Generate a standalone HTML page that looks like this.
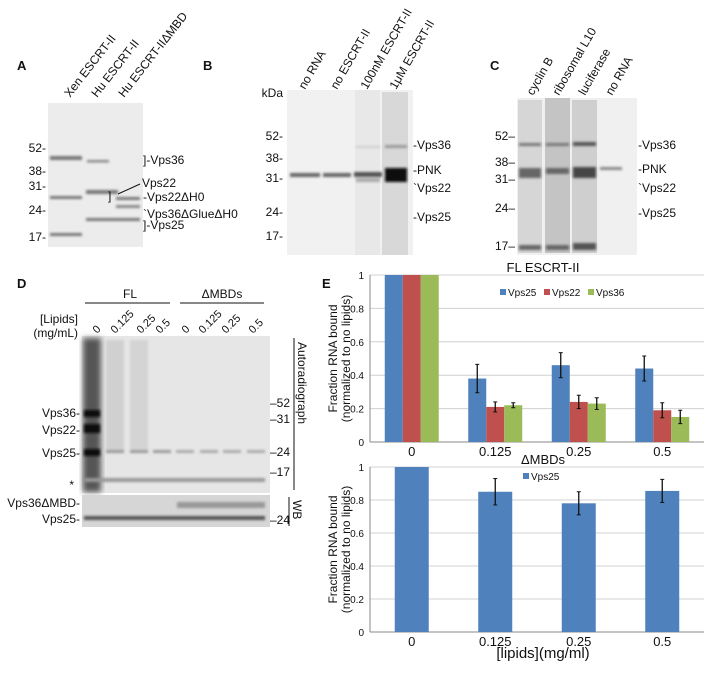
<!DOCTYPE html>
<html><head><meta charset="utf-8"><style>
body{margin:0;background:#fff;width:710px;height:680px;overflow:hidden;font-family:"Liberation Sans",sans-serif}
svg{position:absolute;left:0;top:0}
text{font-family:"Liberation Sans",sans-serif;fill:#111}
</style></head><body>
<svg width="710" height="680">
<defs>
<filter id="b1" x="-20%" y="-200%" width="140%" height="500%"><feGaussianBlur stdDeviation="1.2"/></filter>
<filter id="b2" x="-20%" y="-50%" width="140%" height="200%"><feGaussianBlur stdDeviation="3"/></filter>
</defs>
<!-- Panel A -->
<g>
<text x="17" y="70" font-size="13" font-weight="bold">A</text>
<g font-size="12">
<text transform="translate(70,98) rotate(-52)">Xen ESCRT-II</text>
<text transform="translate(97,98) rotate(-52)">Hu ESCRT-II</text>
<text transform="translate(124,98) rotate(-52)">Hu ESCRT-IIΔMBD</text>
</g>
<rect x="48" y="103" width="95" height="144" fill="#ececec"/>
<g fill="#777" filter="url(#b1)">
<rect x="50" y="156" width="32" height="4"/><rect x="50" y="196" width="32" height="3"/><rect x="50" y="233" width="32" height="3"/>
<rect x="87" y="160" width="22" height="2.5" fill="#888"/><rect x="86" y="190" width="32" height="4"/><rect x="86" y="218" width="32" height="3"/>
<rect x="116" y="197" width="24" height="3"/><rect x="116" y="205" width="24" height="3" fill="#888"/><rect x="116" y="218" width="24" height="3"/>
</g>
<g font-size="12" text-anchor="end"><text x="46" y="152">52-</text><text x="46" y="175">38-</text><text x="46" y="190">31-</text><text x="46" y="214">24-</text><text x="46" y="241">17-</text></g>
<g font-size="12">
<text x="143" y="164">]-Vps36</text><text x="142" y="187">Vps22</text>
<text x="143" y="201">-Vps22ΔH0</text><text x="143" y="218">`Vps36ΔGlueΔH0</text><text x="143" y="229">]-Vps25</text>
<line x1="118" y1="194" x2="140" y2="184" stroke="#111"/><text x="108" y="200">]</text>
</g>
</g>
<!-- Panel B -->
<g>
<text x="203" y="70" font-size="13" font-weight="bold">B</text>
<g font-size="12">
<text transform="translate(305,90) rotate(-60)">no RNA</text>
<text transform="translate(337,90) rotate(-60)">no ESCRT-II</text>
<text transform="translate(367,90) rotate(-60)">100nM ESCRT-II</text>
<text transform="translate(396,90) rotate(-60)">1μM ESCRT-II</text>
</g>
<rect x="287" y="90" width="126" height="165" fill="#f1f1f1"/>
<rect x="355" y="90" width="25" height="165" fill="#e8e8e8"/><rect x="382" y="92" width="26" height="163" fill="#d8d8d8"/>
<g filter="url(#b1)">
<rect x="290" y="173" width="30" height="4" fill="#666"/><rect x="323" y="173" width="28" height="4" fill="#666"/>
<rect x="354" y="172" width="28" height="5" fill="#555"/><rect x="356" y="178" width="24" height="4" fill="#aaa"/>
<rect x="385" y="168" width="22" height="14" fill="#111"/><rect x="385" y="145" width="22" height="3" fill="#999"/><rect x="356" y="146" width="24" height="2" fill="#ccc"/>
</g>
<g font-size="12" text-anchor="end"><text x="283" y="97">kDa</text><text x="283" y="140">52-</text><text x="283" y="162">38-</text><text x="283" y="182">31-</text><text x="283" y="216">24-</text><text x="283" y="240">17-</text></g>
<g font-size="12"><text x="413" y="149">-Vps36</text><text x="413" y="174">-PNK</text><text x="413" y="192">`Vps22</text><text x="413" y="221">-Vps25</text></g>
</g>
<!-- Panel C -->
<g>
<text x="490" y="70" font-size="13" font-weight="bold">C</text>
<g font-size="12">
<text transform="translate(533,96) rotate(-60)">cyclin B</text>
<text transform="translate(559,96) rotate(-60)">ribosomal L10</text>
<text transform="translate(585,96) rotate(-60)">luciferase</text>
<text transform="translate(612,96) rotate(-60)">no RNA</text>
</g>
<rect x="517" y="98" width="120" height="157" fill="#f0f0f0"/>
<rect x="518" y="100" width="24" height="153" fill="#d6d6d6"/><rect x="545" y="98" width="25" height="155" fill="#c4c4c4"/><rect x="572" y="100" width="25" height="153" fill="#cfcfcf"/>
<g filter="url(#b1)" fill="#777">
<rect x="519" y="143" width="22" height="3"/><rect x="546" y="143" width="23" height="3"/><rect x="573" y="142" width="23" height="4" fill="#555"/>
<rect x="519" y="168" width="22" height="10" fill="#666"/><rect x="546" y="168" width="23" height="6" fill="#666"/><rect x="573" y="167" width="23" height="11" fill="#444"/>
<rect x="600" y="167" width="22" height="3" fill="#888"/>
<rect x="519" y="245" width="22" height="5" fill="#666"/><rect x="546" y="245" width="23" height="5" fill="#666"/><rect x="573" y="243" width="23" height="7" fill="#555"/>
</g>
<g font-size="12" text-anchor="end"><text x="515" y="140">52–</text><text x="515" y="166">38–</text><text x="515" y="183">31–</text><text x="515" y="212">24–</text><text x="515" y="250">17–</text></g>
<g font-size="12"><text x="638" y="149">-Vps36</text><text x="638" y="173">-PNK</text><text x="638" y="192">`Vps22</text><text x="638" y="217">-Vps25</text></g>
</g>
<!-- Panel D -->
<g>
<text x="17" y="288" font-size="13" font-weight="bold">D</text>
<text x="130" y="298" font-size="12" text-anchor="middle">FL</text>
<line x1="85" y1="303" x2="170" y2="303" stroke="#111"/>
<text x="222" y="298" font-size="12" text-anchor="middle">ΔMBDs</text>
<line x1="180" y1="303" x2="264" y2="303" stroke="#111"/>
<text x="78" y="323" font-size="12" text-anchor="end">[Lipids]</text>
<text x="78" y="337" font-size="12" text-anchor="end">(mg/mL)</text>
<g font-size="11">
<text transform="translate(97,334) rotate(-45)">0</text><text transform="translate(115,334) rotate(-45)">0.125</text>
<text transform="translate(141,334) rotate(-45)">0.25</text><text transform="translate(160,334) rotate(-45)">0.5</text>
<text transform="translate(186,334) rotate(-45)">0</text><text transform="translate(203,334) rotate(-45)">0.125</text>
<text transform="translate(226,334) rotate(-45)">0.25</text><text transform="translate(253,334) rotate(-45)">0.5</text>
</g>
<rect x="82" y="336" width="188" height="157" fill="#e6e6e6"/>
<rect x="83" y="338" width="18" height="154" fill="#555" filter="url(#b2)"/>
<g filter="url(#b1)">
<rect x="84" y="410" width="16" height="7" fill="#111"/><rect x="84" y="424" width="16" height="9" fill="#111"/><rect x="84" y="449" width="16" height="7" fill="#111"/>
<rect x="106" y="450" width="18" height="3" fill="#999"/><rect x="130" y="450" width="18" height="3" fill="#999"/><rect x="153" y="450" width="18" height="3" fill="#999"/>
<rect x="176" y="450" width="18" height="3" fill="#aaa"/><rect x="200" y="450" width="18" height="3" fill="#aaa"/><rect x="223" y="450" width="18" height="3" fill="#aaa"/><rect x="247" y="450" width="18" height="3" fill="#aaa"/>
<rect x="84" y="478" width="181" height="4" fill="#999"/>
<rect x="106" y="340" width="18" height="110" fill="#d0d0d0"/><rect x="130" y="340" width="18" height="110" fill="#d4d4d4"/>
</g>
<g font-size="12" text-anchor="end"><text x="80" y="417">Vps36-</text><text x="80" y="434">Vps22-</text><text x="80" y="457">Vps25-</text><text x="74" y="489">*</text></g>
<g font-size="12"><text x="270" y="407">–52</text><text x="270" y="423">–31</text><text x="270" y="456">–24</text><text x="270" y="476">–17</text></g>
<line x1="294" y1="338" x2="294" y2="490" stroke="#111"/>
<text transform="translate(298,342) rotate(90)" font-size="12">Autoradiograph</text>
<rect x="82" y="495" width="188" height="32" fill="#d6d6d6"/>
<g filter="url(#b1)" fill="#555">
<rect x="84" y="516" width="181" height="4"/><rect x="177" y="502" width="88" height="6" fill="#999"/>
</g>
<g font-size="12" text-anchor="end"><text x="80" y="507">Vps36ΔMBD-</text><text x="80" y="523">Vps25-</text></g>
<text x="270" y="524" font-size="12">–24</text>
<line x1="289" y1="497" x2="289" y2="526" stroke="#111"/>
<text transform="translate(293,500) rotate(90)" font-size="12">WB</text>
</g>
<text x="322" y="288" font-size="13" font-weight="bold">E</text>
<g id="charts"></g>
</svg>
<script>
const categories=["0","0.125","0.25","0.5"];
const topSeries=["Vps25","Vps22","Vps36"];
const vps25=[1,0.38,0.46,0.44];
const vps22=[1,0.21,0.24,0.19];
const vps36=[1,0.22,0.23,0.15];
const err25=[0,0.085,0.075,0.075];
const err22=[0,0.03,0.04,0.045];
const err36=[0,0.015,0.035,0.04];
const dmbd25=[1,0.85,0.78,0.855];
const errDmbd=[0,0.08,0.07,0.07];
const yTicks=[0,0.2,0.4,0.6,0.8,1];
const colors=["#4f81bd","#c0504d","#9bbb59"];
const NS="http://www.w3.org/2000/svg";
const root=document.getElementById('charts');
function mk(t,a,p){const e=document.createElementNS(NS,t);for(const k in a)e.setAttribute(k,a[k]);(p||root).appendChild(e);return e;}
function chart(cfg){
  const g=mk('g',{});
  
  
  const x0=370,x1=704,bw=(x1-x0)/categories.length;
  const y=v=>cfg.yb-(cfg.yb-cfg.yt)*v;
  yTicks.forEach(t=>{
    if(t>0){const l=mk('line',{x1:x0,x2:x1,y1:y(t),y2:y(t),stroke:'#d0d0d0'},g);}
    const tx=mk('text',{x:x0-6,y:y(t)+4,'font-size':10,'text-anchor':'end'},g);tx.textContent=t;
    
  });
  mk('line',{x1:x0,x2:x0,y1:cfg.yt,y2:cfg.yb,stroke:'#888'},g);
  mk('line',{x1:x0,x2:x1,y1:cfg.yb,y2:cfg.yb,stroke:'#888'},g);
  categories.forEach((c,i)=>{
    const cx=x0+bw*(i+0.5);
    const tx=mk('text',{x:cx,y:cfg.yb+cfg.lblOff,'font-size':13,'text-anchor':'middle'},g);tx.textContent=c;
    
    const n=cfg.series.length;
    cfg.series.forEach((s,j)=>{
      const w=cfg.barW,bx=cx-n*w/2+j*w;
      const r=mk('rect',{x:bx,y:y(s[i]),width:w,height:cfg.yb-y(s[i]),fill:colors[j]},g);
      
      
      const e=cfg.errs[j][i];
      if(e>0){const m=bx+w/2;
        mk('line',{x1:m,x2:m,y1:y(s[i]+e),y2:y(s[i]-e),stroke:'#111','stroke-width':1.3},g);
        mk('line',{x1:m-2,x2:m+2,y1:y(s[i]+e),y2:y(s[i]+e),stroke:'#111'},g);
        mk('line',{x1:m-2,x2:m+2,y1:y(s[i]-e),y2:y(s[i]-e),stroke:'#111'},g);}
    });
  });
  const t=mk('text',{x:543,y:cfg.yt-3,'font-size':13,'text-anchor':'middle'},g);t.textContent=cfg.title;
  
  cfg.names.forEach((nm,j)=>{
    const lx=cfg.legX+j*44;
    mk('rect',{x:lx,y:cfg.legY-7,width:6,height:6,fill:colors[j]},g);
    const lt=mk('text',{x:lx+8,y:cfg.legY,'font-size':10},g);lt.textContent=nm;
    
  });
  const yl=mk('text',{transform:`translate(337,${(cfg.yt+cfg.yb)/2}) rotate(-90)`,'font-size':12,'text-anchor':'middle'},g);yl.textContent='Fraction RNA bound';
  
  const y2=mk('text',{transform:`translate(350,${(cfg.yt+cfg.yb)/2}) rotate(-90)`,'font-size':12,'text-anchor':'middle'},g);y2.textContent='(normalized to no lipids)';
  
}
chart({name:'chart-fl-escrt-ii',yt:275,yb:442,series:[vps25,vps22,vps36],errs:[err25,err22,err36],names:topSeries,barW:18,title:'FL ESCRT-II',legX:500,legY:296,lblOff:14});
chart({name:'chart-dmbds',yt:467,yb:632,series:[dmbd25],errs:[errDmbd],names:["Vps25"],barW:34,title:'ΔMBDs',legX:523,legY:480,lblOff:14});
const xt=mk('text',{x:543,y:658,'font-size':15,'text-anchor':'middle'});xt.textContent='[lipids](mg/ml)';


</script>
</body></html>
